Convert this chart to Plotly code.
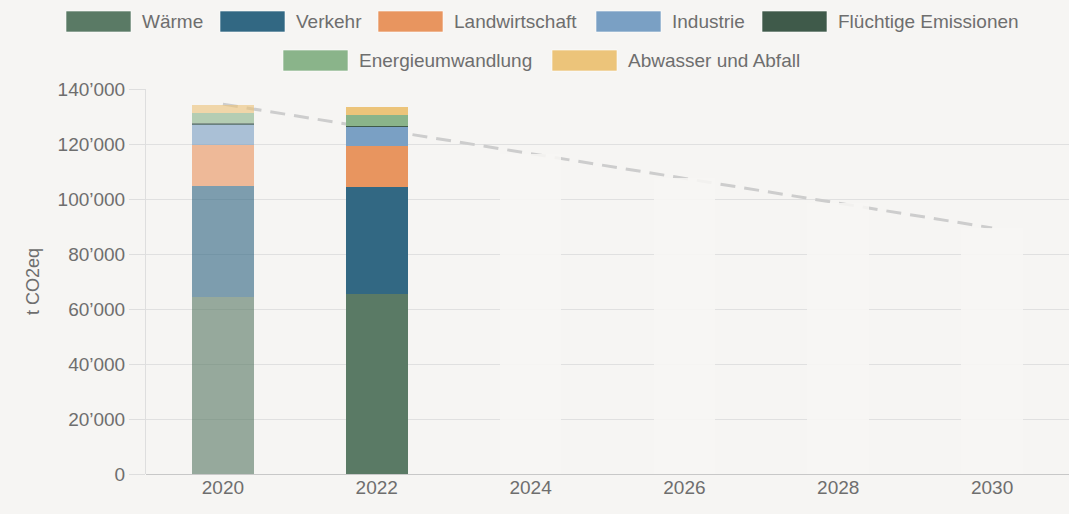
import plotly.graph_objects as go

# ---------------- data ----------------
years = ["2020", "2022", "2024", "2026", "2028", "2030"]
series_names = ["Wärme", "Verkehr", "Landwirtschaft", "Industrie",
                "Flüchtige Emissionen", "Energieumwandlung", "Abwasser und Abfall"]
waerme = [64300, 65500, None, None, None, None]
verkehr = [40600, 38800, None, None, None, None]
landwirtschaft = [14800, 15000, None, None, None, None]
industrie = [7500, 6900, None, None, None, None]
fluechtige = [400, 400, None, None, None, None]
energie = [3600, 4000, None, None, None, None]
abwasser = [2900, 2700, None, None, None, None]
target_bars = [None, None, 116500, 107500, 98500, 89500]
target_path = [134500, 125500, 116500, 107500, 98500, 89500]
y_ticks = [0, 20000, 40000, 60000, 80000, 100000, 120000, 140000]
y_title = "t CO2eq"

# ---------------- style ----------------
colors = ["#5a7a65", "#326883", "#e8955f", "#7aa0c4", "#3f5a4a", "#8ab48a", "#ecc47a"]
point_opacity = [0.62, 1, 1, 1, 1, 1]
bg = "#f6f5f3"
txt = "#6e6e6e"
font_fam = "Liberation Sans, Arial, sans-serif"
fsize = 19

W, H = 1069, 514
L, R, T, B = 146, 0, 89, 40
pw, ph = W - L - R, H - T - B


def px(x):
    return (x - L) / pw


def py(y):
    return (H - B - y) / ph


fig = go.Figure()

# dashed target path (base axes, drawn beneath bars)
fig.add_trace(go.Scatter(
    x=years, y=target_path, mode="lines", xaxis="x", yaxis="y",
    line=dict(color="#cdcdcd", width=3, dash="15px,9px"),
    showlegend=False, hoverinfo="skip"))

values = [waerme, verkehr, landwirtschaft, industrie, fluechtige, energie, abwasser]
for name, vals, col in zip(series_names, values, colors):
    fig.add_trace(go.Bar(
        x=years, y=vals, name=name, xaxis="x", yaxis="y2",
        marker=dict(color=col, opacity=point_opacity, line=dict(width=0)),
        showlegend=False))

fig.add_trace(go.Bar(
    x=years, y=target_bars, name="Ziel", xaxis="x", yaxis="y2",
    marker=dict(color="rgba(247,246,244,0.88)", line=dict(width=0)),
    showlegend=False, hoverinfo="skip"))

# ---------------- manual legend ----------------
legend_rows = [
    (21.5, [(66, 0), (220, 1), (378, 2), (596, 3), (762, 4)]),
    (60.5, [(283, 5), (552, 6)]),
]
sw_w, sw_h = 65, 21
shapes = []
annotations = []
for cy, items in legend_rows:
    for x0, idx in items:
        shapes.append(dict(
            type="rect", xref="paper", yref="paper",
            x0=px(x0), x1=px(x0 + sw_w), y0=py(cy + sw_h / 2), y1=py(cy - sw_h / 2),
            fillcolor=colors[idx], line=dict(width=1, color="rgba(255,255,255,0.6)"),
            layer="above"))
        annotations.append(dict(
            text=series_names[idx], xref="paper", yref="paper",
            x=px(x0 + sw_w + 9), y=py(cy), xanchor="left", yanchor="middle",
            showarrow=False, font=dict(family=font_fam, size=fsize, color=txt)))

# y axis title
annotations.append(dict(
    text=y_title, xref="paper", yref="paper", x=px(33), y=py(282),
    xanchor="center", yanchor="middle", textangle=-90, showarrow=False,
    font=dict(family=font_fam, size=18, color=txt)))

fig.update_layout(
    width=W, height=H,
    margin=dict(l=L, r=R, t=T, b=B, pad=0),
    paper_bgcolor=bg, plot_bgcolor=bg,
    barmode="stack", bargap=0.6,
    separators=".’",
    showlegend=False,
    shapes=shapes, annotations=annotations,
    xaxis=dict(type="category", categoryorder="array", categoryarray=years,
               showgrid=False, zeroline=False, showline=False, ticks="",
               tickfont=dict(family=font_fam, size=fsize, color=txt)),
    yaxis=dict(range=[0, 140000], tickvals=y_ticks, tickformat=",",
               showgrid=True, gridcolor="#e0e0e0", gridwidth=1,
               zeroline=True, zerolinecolor="#c8c8c8", zerolinewidth=1,
               showline=True, linecolor="#dedede", linewidth=1,
               ticks="outside", ticklen=16, tickcolor="#dedede",
               tickfont=dict(family=font_fam, size=fsize, color=txt)),
    yaxis2=dict(range=[0, 140000], overlaying="y", visible=False,
                showgrid=False, zeroline=False),
)

fig.write_html("out.html", config={"displayModeBar": False},
               post_script="document.body.style.margin='0';")
